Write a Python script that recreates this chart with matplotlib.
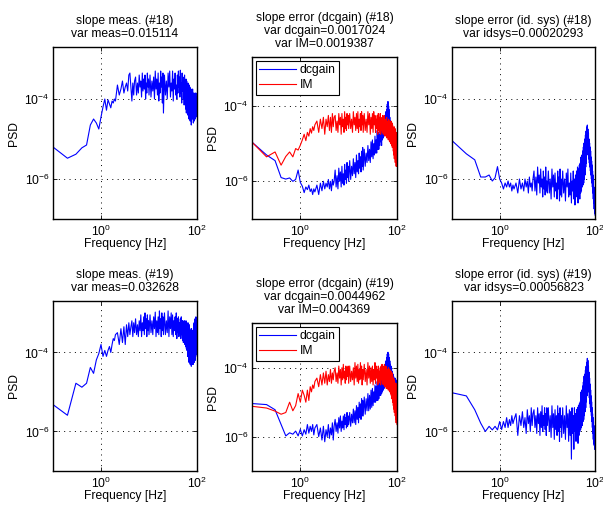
import numpy as np
import matplotlib
matplotlib.use("Agg")
import matplotlib.pyplot as plt

plt.rcParams.update({
    "font.family": ["Liberation Sans", "DejaVu Sans"],
    "font.size": 8.7,
    "mathtext.fontset": "custom",
    "mathtext.rm": "Liberation Sans",
    "mathtext.it": "Liberation Sans:italic",
    "mathtext.bf": "Liberation Sans:bold",
})

# Frequency bins [Hz]
freq = np.round(np.concatenate([
    np.arange(1, 21) * 0.1,          # 0.1 .. 2.0
    2.0 + np.arange(1, 16) * 0.2,    # 2.2 .. 5.0
    5.0 + np.arange(1, 21) * 0.25,   # 5.25 .. 10
    10.0 + np.arange(1, 21) * 0.5,   # 10.5 .. 20
    20.0 + np.arange(1, 81) * 1.0,   # 21 .. 100
]), 3)

# PSD values, log10 units
meas18 = [
    -5.2, -5.48, -5.38, -5.22, -5.15, -4.65, -4.5, -4.6, -4.75, -4.45, -4.2, -4.0, -4.28, -4.02, -4.12, -4.22, -4.05, -4.1, -4.0, -4.05,
    -3.65, -3.9, -3.75, -3.55, -3.85, -3.7, -3.6, -3.8, -3.4, -3.35, -3.7, -4.05, -3.6, -3.9, -3.55,
    -3.45, -3.9, -3.6, -3.85, -3.4, -3.7, -3.55, -3.95, -3.35, -3.8, -3.5, -3.75, -3.4, -4.0, -3.6, -3.85, -3.35, -3.7, -3.5, -3.9,
    -3.4, -3.95, -3.55, -3.8, -3.45, -4.0, -3.3, -3.75, -3.5, -3.9, -3.35, -4.05, -3.6, -3.85, -3.3, -3.7, -3.45, -4.1, -3.35, -4.35,
    -3.4, -3.9, -3.55, -4.0, -3.35, -3.7, -3.3, -3.95, -3.6, -3.8,
    -3.3, -4.05, -3.5, -3.75, -3.35, -3.9, -3.65, -4.0, -3.4, -3.85,
    -3.3, -3.7, -3.45, -3.95, -3.28, -3.85, -3.6, -4.1, -3.35, -3.8,
    -3.45, -4.0, -3.6, -4.15, -3.4, -3.85, -3.7, -4.25, -3.5, -4.35,
    -3.55, -4.05, -3.75, -4.4, -3.6, -4.15, -3.8, -4.5, -3.65, -4.25,
    -3.7, -4.55, -3.9, -4.3, -3.75, -4.65, -4.0, -4.45, -3.8, -4.5,
    -3.75, -4.3, -3.95, -4.6, -3.85, -4.4, -4.05, -4.55, -3.9, -4.3,
    -3.85, -4.5, -4.05, -4.3, -3.85, -4.45, -4.0, -4.3, -3.95, -4.2,
]

dcgain18 = [
    -4.96, -5.3, -5.45, -5.9, -5.94, -5.91, -6.0, -5.95, -5.7, -6.03, -6.13, -6.3, -6.15, -6.22, -6.1, -6.27, -6.2, -6.35, -6.2, -6.28,
    -6.1, -6.35, -6.05, -6.25, -6.0, -6.2, -6.05, -6.15, -5.95, -6.2, -6.0, -6.25, -5.95, -6.1, -6.0,
    -5.7, -6.15, -5.85, -6.2, -5.65, -6.0, -5.75, -6.15, -5.6, -6.05, -5.8, -6.1, -5.55, -5.95, -5.7, -6.05, -5.5, -5.9, -5.6, -6.0,
    -5.45, -5.95, -5.6, -5.85, -5.4, -5.8, -5.5, -5.9, -5.3, -5.75, -5.45, -5.8, -5.25, -5.65, -5.35, -5.75, -5.2, -5.6, -5.1, -5.7,
    -5.15, -5.6, -5.25, -5.5, -5.05, -5.45, -5.15, -5.5, -4.95, -5.35,
    -4.9, -5.4, -5.0, -5.3, -4.8, -5.25, -4.9, -5.25, -4.65, -5.15,
    -4.7, -5.15, -4.75, -5.05, -4.5, -4.95, -4.6, -5.05, -4.35, -4.9,
    -4.4, -4.85, -4.45, -4.75, -4.25, -4.7, -4.35, -4.65, -4.15, -4.55,
    -4.1, -4.5, -3.95, -4.4, -3.88, -4.3, -4.0, -4.45, -4.1, -4.5,
    -4.3, -4.7, -4.4, -4.8, -4.5, -4.9, -4.55, -4.95, -4.6, -4.85,
    -4.65, -5.0, -4.7, -4.9, -4.75, -5.05, -4.7, -4.95, -4.8, -5.0,
    -4.8, -5.05, -4.85, -4.95, -4.9, -5.1, -4.85, -5.0, -4.9, -5.0,
]

im18 = [
    -4.96, -5.35, -5.22, -5.57, -5.34, -5.22, -5.35, -5.13, -5.17, -5.04, -4.9, -4.75, -4.92, -4.7, -4.8, -4.6, -4.72, -4.55, -4.65, -4.5,
    -4.4, -4.7, -4.35, -4.6, -4.3, -4.75, -4.35, -4.55, -4.25, -4.65, -4.3, -4.7, -4.2, -4.55, -4.3,
    -4.25, -4.65, -4.4, -4.7, -4.2, -4.5, -4.3, -4.75, -4.2, -4.55, -4.35, -4.7, -4.15, -4.6, -4.3, -4.65, -4.2, -4.5, -4.25, -4.6,
    -4.2, -4.6, -4.35, -4.7, -4.15, -4.5, -4.3, -4.65, -4.2, -4.6, -4.15, -4.7, -4.35, -4.55, -4.2, -4.65, -4.15, -4.5, -4.25, -4.7,
    -4.2, -4.65, -4.35, -4.7, -4.15, -4.5, -4.2, -4.75, -4.3, -4.6,
    -4.2, -4.7, -4.15, -4.5, -4.25, -4.7, -4.35, -4.6, -4.25, -4.75,
    -4.2, -4.65, -4.3, -4.7, -4.2, -4.75, -4.4, -4.65, -4.3, -4.7,
    -4.25, -4.75, -4.35, -4.6, -4.25, -4.8, -4.4, -4.75, -4.35, -4.8,
    -4.3, -4.85, -4.45, -4.7, -4.4, -4.9, -4.35, -4.75, -4.4, -4.95,
    -4.4, -4.9, -4.5, -5.0, -4.4, -4.85, -4.5, -5.05, -4.45, -5.1,
    -4.5, -5.0, -4.6, -5.2, -4.6, -5.3, -4.55, -5.4, -4.65, -5.3,
    -4.6, -5.5, -4.7, -5.4, -4.75, -5.6, -4.7, -5.5, -4.8, -5.6,
]

idsys18 = [
    -5.04, -5.37, -5.52, -5.95, -5.95, -5.9, -6.05, -5.97, -5.69, -6.0, -6.1, -6.25, -6.1, -6.2, -6.05, -6.2, -6.1, -6.3, -6.15, -6.25,
    -6.1, -6.35, -6.0, -6.25, -6.1, -6.3, -6.0, -6.2, -6.05, -6.35, -5.95, -6.2, -6.1, -6.3, -6.0,
    -5.8, -6.3, -5.95, -6.4, -5.7, -6.1, -5.9, -6.35, -5.75, -6.2, -6.0, -6.45, -5.8, -6.25, -5.95, -6.4, -5.7, -6.3, -6.05, -6.35,
    -5.8, -6.35, -6.0, -6.5, -5.75, -6.2, -5.9, -6.45, -5.85, -6.3, -6.1, -6.5, -5.8, -6.25, -5.95, -6.55, -5.75, -6.4, -6.0, -6.45,
    -5.8, -6.35, -6.0, -6.55, -5.85, -6.2, -5.75, -6.45, -6.1, -6.4,
    -5.85, -6.6, -6.05, -6.3, -5.8, -6.5, -6.0, -6.65, -5.9, -6.3,
    -5.8, -6.45, -5.7, -6.6, -5.75, -6.3, -5.65, -6.5, -5.6, -6.35,
    -5.45, -6.3, -5.4, -6.2, -5.3, -6.15, -5.2, -6.1, -5.1, -6.0,
    -5.0, -5.9, -4.9, -5.7, -4.8, -5.6, -4.7, -5.4, -4.65, -5.3,
    -4.75, -5.35, -4.85, -5.5, -5.0, -5.6, -5.1, -5.7, -5.2, -5.8,
    -5.3, -5.9, -5.45, -6.0, -5.55, -6.1, -5.65, -6.2, -5.8, -6.35,
    -5.9, -6.5, -6.0, -6.6, -6.2, -6.75, -6.3, -6.85, -6.5, -6.9,
]

meas19 = [
    -5.32, -5.59, -4.78, -4.88, -4.78, -4.38, -4.53, -4.19, -4.03, -3.8, -4.1, -3.95, -4.1, -3.95, -3.85, -4.0, -3.8, -3.65, -3.7, -3.55,
    -3.5, -3.8, -3.4, -3.75, -3.35, -3.8, -3.3, -3.6, -3.25, -3.55, -3.35, -3.2, -3.6, -3.25, -3.5,
    -3.15, -3.55, -3.3, -3.6, -3.2, -3.45, -3.05, -3.6, -3.25, -3.45, -3.1, -3.55, -3.0, -3.4, -3.15, -3.6, -3.05, -3.45, -3.2, -3.55,
    -3.05, -3.5, -3.2, -3.55, -3.1, -3.4, -2.98, -3.6, -3.2, -3.5, -3.1, -3.55, -2.95, -3.4, -3.15, -3.6, -3.0, -3.45, -3.1, -3.55,
    -3.0, -3.55, -3.2, -3.5, -2.95, -3.6, -3.1, -3.4, -3.0, -3.55,
    -3.05, -3.6, -3.2, -3.45, -3.1, -3.55, -3.0, -3.65, -3.15, -3.5,
    -3.1, -3.6, -3.25, -3.5, -3.15, -3.65, -3.1, -3.55, -3.2, -3.7,
    -3.2, -3.75, -3.35, -3.6, -3.2, -3.8, -3.4, -3.85, -3.2, -3.9,
    -3.25, -3.95, -3.45, -4.1, -3.25, -3.8, -3.35, -4.25, -3.3, -4.05,
    -3.4, -4.3, -3.55, -4.05, -3.45, -4.35, -3.4, -4.1, -3.5, -4.3,
    -3.45, -4.2, -3.6, -4.3, -3.3, -4.0, -3.25, -4.25, -3.4, -4.1,
    -3.15, -4.2, -3.35, -4.1, -3.1, -3.9, -3.2, -4.05, -3.3, -3.95,
]

dcgain19 = [
    -5.04, -5.07, -5.22, -5.65, -5.98, -5.89, -5.93, -5.84, -5.98, -5.79, -5.98, -5.8, -5.93, -5.65, -5.9, -5.7, -5.85, -5.65, -5.95, -5.75,
    -5.65, -6.0, -5.75, -6.1, -5.7, -6.15, -5.8, -6.0, -5.65, -6.05, -5.75, -5.95, -5.6, -6.1, -5.7,
    -5.5, -5.85, -5.6, -5.9, -5.45, -5.75, -5.4, -5.85, -5.55, -5.75, -5.4, -5.8, -5.35, -5.65, -5.45, -5.75, -5.3, -5.7, -5.4, -5.65,
    -5.3, -5.7, -5.35, -5.6, -5.2, -5.6, -5.25, -5.65, -5.1, -5.5, -5.15, -5.6, -5.0, -5.45, -5.05, -5.5, -4.9, -5.4, -4.95, -5.4,
    -4.85, -5.35, -4.9, -5.25, -4.75, -5.25, -4.8, -5.2, -4.65, -5.15,
    -4.6, -5.1, -4.7, -5.0, -4.5, -5.0, -4.55, -4.95, -4.4, -4.95,
    -4.4, -4.9, -4.45, -4.8, -4.3, -4.8, -4.35, -4.75, -4.2, -4.7,
    -4.15, -4.65, -4.1, -4.6, -4.0, -4.55, -3.9, -4.45, -3.8, -4.35,
    -3.7, -4.2, -3.6, -4.1, -3.55, -4.0, -3.6, -4.05, -3.7, -4.15,
    -3.8, -4.25, -3.9, -4.3, -3.95, -4.4, -4.0, -4.45, -4.1, -4.5,
    -4.15, -4.6, -4.2, -4.65, -4.25, -4.7, -4.3, -4.75, -4.35, -4.8,
    -4.3, -4.75, -4.4, -4.85, -4.35, -4.8, -4.45, -4.9, -4.4, -4.85,
]

im19 = [
    -5.12, -5.17, -5.26, -5.35, -5.3, -5.0, -5.25, -5.1, -4.75, -5.0, -4.65, -4.8, -5.0, -4.65, -4.95, -4.55, -4.7, -4.5, -4.6, -4.4,
    -4.3, -4.55, -4.2, -4.5, -4.15, -4.45, -4.1, -4.5, -4.2, -4.4, -4.05, -4.45, -4.15, -4.35, -4.1,
    -4.0, -4.4, -4.15, -4.45, -3.95, -4.3, -4.05, -4.5, -4.0, -4.35, -3.9, -4.3, -4.1, -4.45, -3.95, -4.35, -4.0, -4.25, -3.95, -4.45,
    -3.95, -4.4, -4.1, -4.35, -4.0, -4.5, -3.85, -4.3, -3.95, -4.4, -3.9, -4.45, -4.05, -4.35, -3.85, -4.3, -3.95, -4.5, -4.05, -4.35,
    -3.9, -4.4, -4.05, -4.5, -3.85, -4.3, -3.95, -4.45, -4.0, -4.4,
    -3.95, -4.5, -4.05, -4.35, -3.85, -4.45, -3.95, -4.3, -4.05, -4.5,
    -3.95, -4.45, -4.1, -4.4, -4.0, -4.5, -3.95, -4.35, -3.9, -4.45,
    -3.95, -4.5, -4.1, -4.45, -3.9, -4.55, -4.05, -4.4, -3.95, -4.6,
    -4.0, -4.55, -4.1, -4.6, -4.05, -4.65, -4.0, -4.5, -4.1, -4.7,
    -4.05, -4.65, -4.2, -4.75, -4.1, -4.8, -4.2, -4.9, -4.15, -4.85,
    -4.2, -5.0, -4.3, -5.1, -4.3, -5.2, -4.35, -5.3, -4.4, -5.25,
    -4.45, -5.4, -4.5, -5.5, -4.45, -5.6, -4.55, -5.5, -4.6, -5.65,
]

idsys19 = [
    -5.02, -5.1, -5.45, -5.79, -6.0, -5.87, -5.96, -5.87, -5.96, -5.75, -5.95, -5.75, -5.9, -5.65, -5.9, -5.7, -5.85, -5.6, -5.8, -5.7,
    -5.55, -6.1, -5.6, -5.85, -5.5, -5.9, -5.65, -6.05, -5.45, -5.8, -5.6, -6.0, -5.4, -5.85, -5.55,
    -5.45, -5.9, -5.6, -6.05, -5.4, -5.8, -5.55, -6.1, -5.5, -5.9, -5.35, -6.0, -5.6, -5.85, -5.4, -5.95, -5.55, -6.1, -5.4, -5.85,
    -5.4, -6.0, -5.6, -6.15, -5.35, -5.9, -5.55, -6.2, -5.45, -5.95, -5.6, -6.1, -5.35, -6.0, -5.55, -6.25, -5.4, -5.9, -5.6, -6.15,
    -5.4, -6.05, -5.6, -6.2, -5.35, -5.9, -5.55, -6.25, -5.45, -6.1,
    -5.5, -6.7, -5.4, -6.05, -5.6, -6.45, -5.4, -6.0, -5.55, -6.25,
    -5.45, -6.2, -5.4, -6.3, -5.35, -6.1, -5.3, -6.0, -5.25, -5.95,
    -5.0, -5.9, -4.95, -5.85, -4.85, -5.75, -4.75, -5.7, -4.6, -5.6,
    -4.55, -5.5, -4.45, -5.4, -4.35, -5.25, -4.25, -5.1, -4.15, -4.9,
    -4.2, -4.85, -4.35, -5.0, -4.5, -5.15, -4.65, -5.3, -4.8, -5.4,
    -4.95, -5.5, -5.1, -5.6, -5.25, -5.75, -5.4, -5.9, -5.55, -6.05,
    -5.65, -6.2, -5.75, -6.3, -5.85, -6.35, -5.95, -6.45, -6.0, -6.42,
]

titles = [
    "slope meas. (#18)\nvar meas=0.015114",
    "slope error (dcgain) (#18)\nvar dcgain=0.0017024\nvar IM=0.0019387",
    "slope error (id. sys) (#18)\nvar idsys=0.00020293",
    "slope meas. (#19)\nvar meas=0.032628",
    "slope error (dcgain) (#19)\nvar dcgain=0.0044962\nvar IM=0.004369",
    "slope error (id. sys) (#19)\nvar idsys=0.00056823",
]

# (series, colours, legend labels) per panel
panels = [
    ([meas18], ["b"], None),
    ([dcgain18, im18], ["b", "r"], ["dcgain", "IM"]),
    ([idsys18], ["b"], None),
    ([meas19], ["b"], None),
    ([dcgain19, im19], ["b", "r"], ["dcgain", "IM"]),
    ([idsys19], ["b"], None),
]

W, H = 603, 508
# axes boxes in pixels: left, top, right, bottom
boxes = [
    (53, 47, 197, 219), (252, 57, 397, 219), (452, 47, 595, 219),
    (53, 301, 197, 471), (252, 323, 397, 471), (452, 301, 595, 471),
]

fig = plt.figure(figsize=(W / 100, H / 100), dpi=100, facecolor="white")

for (series, colours, labels), title, (l, t, r, b) in zip(panels, titles, boxes):
    wpx, hpx = r - l, b - t
    ax = fig.add_axes([l / W, (H - b) / H, wpx / W, hpx / H])
    for i, (vals, c) in enumerate(zip(series, colours)):
        ax.plot(freq, 10.0 ** np.asarray(vals), color=c, lw=0.8,
                label=labels[i] if labels else None)
    ax.set_xscale("log")
    ax.set_yscale("log")
    ax.set_xlim(0.1, 100)
    ax.set_ylim(1e-7, 2e-3)
    ax.set_xticks([1, 100])
    ax.set_yticks([1e-6, 1e-4])
    ax.minorticks_off()
    ax.tick_params(direction="in", top=True, right=True, length=3,
                   width=0.6, labelsize=8.7)
    ax.tick_params(axis="x", pad=3.5)
    ax.tick_params(axis="y", pad=2.5)
    ax.grid(True, which="major", linestyle=(0, (1, 4.5)), color="k",
            linewidth=0.7)
    for sp in ax.spines.values():
        sp.set_linewidth(1.0)
    ax.set_title(title, fontsize=8.7, pad=7, linespacing=1.12)
    ax.set_xlabel("Frequency [Hz]")
    ax.set_ylabel("PSD")
    ax.xaxis.set_label_coords(0.5, -19 / hpx)
    ax.yaxis.set_label_coords(-33 / wpx, 0.5)
    if labels:
        leg = ax.legend(loc="upper left", fancybox=False, edgecolor="k",
                        framealpha=1, handlelength=3.0, handletextpad=0.35,
                        borderaxespad=0.3, labelspacing=0.25, borderpad=0.3,
                        fontsize=8.7)
        leg.get_frame().set_linewidth(0.8)

fig.savefig("out.png", dpi=100, facecolor="white")
